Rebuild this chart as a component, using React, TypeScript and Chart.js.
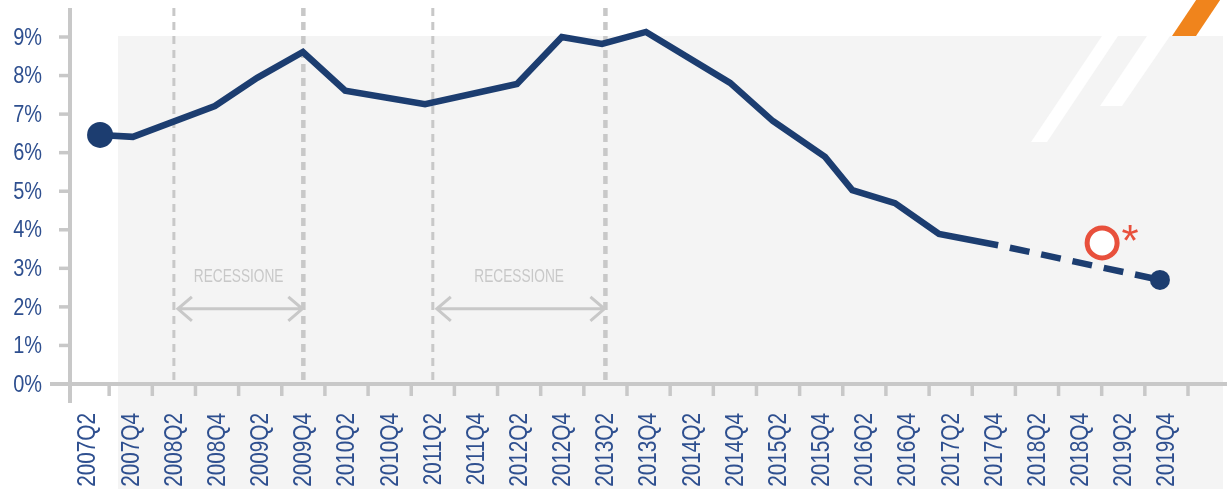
import React, { useEffect, useRef } from "react";
import { Chart, registerables } from "chart.js";

Chart.register(...registerables);

// ---- data ----
const periods = [
  "2007Q2", "2007Q4", "2008Q2", "2008Q4", "2009Q2", "2009Q4", "2010Q2", "2010Q4",
  "2011Q2", "2011Q4", "2012Q2", "2012Q4", "2013Q2", "2013Q4", "2014Q2", "2014Q4",
  "2015Q2", "2015Q4", "2016Q2", "2016Q4", "2017Q2", "2017Q4", "2018Q2", "2018Q4",
  "2019Q2", "2019Q4",
];
const percentTicks = [0, 1, 2, 3, 4, 5, 6, 7, 8, 9];

// position along the half-year axis (index into periods) and rate in %
const actualPos = [0.29, 1.05, 2.95, 3.93, 4.99, 5.97, 7.82, 9.95, 10.99, 11.92, 12.94, 14.89, 15.88, 17.09, 17.72, 18.71, 19.73, 21.1];
const actualRate = [6.46, 6.41, 7.21, 7.94, 8.61, 7.61, 7.26, 7.78, 9.0, 8.82, 9.13, 7.81, 6.82, 5.89, 5.03, 4.69, 3.89, 3.6];
const forecastPos = [21.1, 24.85];
const forecastRate = [3.6, 2.7];
const targetPos = [23.51];
const targetRate = [3.66];

const recessions = [
  ["2008Q2", "2009Q4"],
  ["2011Q2", "2013Q2"],
];
const recessionLabel = "RECESSIONE";

// ---- styles ----
const NAVY = "#1c3d70";
const TEXT_BLUE = "#2e4f8f";
const GREY = "#c8c8c8";
const PANEL = "#f4f4f4";
const RED = "#e8503c";
const ORANGE = "#f0841c";
const FONT = "'Liberation Sans', Arial, sans-serif";
const SQUEEZE = 0.83;

const decor = {
  id: "decor",
  beforeDraw(chart: any) {
    const { ctx, chartArea, scales } = chart;
    const xs = scales.x;
    const ys = scales.y;
    const W = chart.width;
    const H = chart.height;
    const top = ys.getPixelForValue(9) - 1;
    const bottom = chartArea.bottom;
    ctx.save();

    // grey panel
    const panelL = 118;
    const panelR = W - 4;
    ctx.fillStyle = PANEL;
    ctx.fillRect(panelL, top, panelR - panelL, H - top);

    // white stripes
    ctx.fillStyle = "#ffffff";
    ctx.beginPath();
    ctx.moveTo(1102, top);
    ctx.lineTo(1118, top);
    ctx.lineTo(1047, 142);
    ctx.lineTo(1031, 142);
    ctx.closePath();
    ctx.fill();
    ctx.beginPath();
    ctx.moveTo(1147, top);
    ctx.lineTo(1170, top);
    ctx.lineTo(1122, 106);
    ctx.lineTo(1100, 106);
    ctx.closePath();
    ctx.fill();
    // orange stripe above panel
    ctx.fillStyle = ORANGE;
    ctx.beginPath();
    ctx.moveTo(1172, top);
    ctx.lineTo(1196, top);
    ctx.lineTo(1196 + top * 0.67, 0);
    ctx.lineTo(1172 + top * 0.67, 0);
    ctx.closePath();
    ctx.fill();

    // recession dashed lines, arrows, labels
    recessions.forEach(([a, b]) => {
      const xa = xs.getPixelForValue(periods.indexOf(a));
      const xb = xs.getPixelForValue(periods.indexOf(b));
      ctx.strokeStyle = GREY;
      ctx.setLineDash([8, 6]);
      ctx.lineWidth = 3;
      ctx.beginPath();
      ctx.moveTo(xa, 8);
      ctx.lineTo(xa, bottom);
      ctx.stroke();
      ctx.lineWidth = 4.5;
      ctx.beginPath();
      ctx.moveTo(xb, 8);
      ctx.lineTo(xb, bottom);
      ctx.stroke();
      ctx.setLineDash([]);

      const ay = ys.getPixelForValue(1.95);
      ctx.lineWidth = 3;
      ctx.beginPath();
      ctx.moveTo(xa + 4, ay);
      ctx.lineTo(xb - 1, ay);
      ctx.moveTo(xa + 18, ay - 12);
      ctx.lineTo(xa + 4, ay);
      ctx.lineTo(xa + 18, ay + 12);
      ctx.moveTo(xb - 15, ay - 12);
      ctx.lineTo(xb - 1, ay);
      ctx.lineTo(xb - 15, ay + 12);
      ctx.stroke();

      ctx.save();
      ctx.fillStyle = GREY;
      ctx.font = `18px ${FONT}`;
      ctx.textAlign = "center";
      ctx.textBaseline = "middle";
      ctx.translate((xa + xb) / 2, ys.getPixelForValue(2.77));
      ctx.scale(0.76, 1);
      ctx.fillText(recessionLabel, 0, 0);
      ctx.restore();
    });

    // axes
    ctx.strokeStyle = GREY;
    ctx.lineWidth = 4;
    const yAxisX = chartArea.left + 4;
    ctx.beginPath();
    ctx.moveTo(yAxisX, 8);
    ctx.lineTo(yAxisX, bottom + 19);
    ctx.stroke();
    ctx.beginPath();
    ctx.moveTo(50, bottom);
    ctx.lineTo(W, bottom);
    ctx.stroke();
    ctx.lineWidth = 3.5;
    percentTicks.forEach((v) => {
      if (v === 0) return;
      const py = ys.getPixelForValue(v);
      ctx.beginPath();
      ctx.moveTo(59, py);
      ctx.lineTo(yAxisX, py);
      ctx.stroke();
    });
    periods.forEach((_, i) => {
      const px = xs.getPixelForValue(i + 0.5);
      ctx.beginPath();
      ctx.moveTo(px, bottom);
      ctx.lineTo(px, bottom + 12);
      ctx.stroke();
    });

    // tick labels (condensed)
    ctx.fillStyle = TEXT_BLUE;
    ctx.font = `24px ${FONT}`;
    ctx.textAlign = "right";
    ctx.textBaseline = "middle";
    percentTicks.forEach((v) => {
      const py = ys.getPixelForValue(v);
      ctx.save();
      ctx.translate(42, py + 1);
      ctx.scale(SQUEEZE, 1);
      ctx.fillText(`${v}%`, 0, 0);
      ctx.restore();
    });
    ctx.font = `25px ${FONT}`;
    periods.forEach((label, i) => {
      const px = xs.getPixelForValue(i);
      ctx.save();
      ctx.translate(px + 1, bottom + 29);
      ctx.rotate(-Math.PI / 2);
      ctx.scale(SQUEEZE, 1);
      ctx.fillText(label, 0, 0);
      ctx.restore();
    });
    ctx.restore();
  },
  afterDatasetsDraw(chart: any) {
    const { ctx } = chart;
    const meta = chart.getDatasetMeta(2);
    const pt = meta.data[0];
    if (!pt) return;
    ctx.save();
    ctx.fillStyle = RED;
    ctx.font = `44px ${FONT}`;
    ctx.textAlign = "center";
    ctx.textBaseline = "alphabetic";
    ctx.fillText("*", pt.x + 28, pt.y + 13);
    ctx.restore();
  },
};

export default function App() {
  const canvasRef = useRef<HTMLCanvasElement | null>(null);

  useEffect(() => {
    document.body.style.margin = "0";
    const canvas = canvasRef.current;
    if (!canvas) return;
    const chart = new Chart(canvas, {
      type: "line",
      data: {
        datasets: [
          {
            data: actualPos.map((p, i) => ({ x: p, y: actualRate[i] })),
            borderColor: NAVY,
            borderWidth: 6.5,
            borderJoinStyle: "miter",
            pointRadius: actualPos.map((_, i) => (i === 0 ? 13 : 0)),
            pointBackgroundColor: NAVY,
            pointBorderWidth: 0,
            tension: 0,
            clip: false,
          } as any,
          {
            data: forecastPos.map((p, i) => ({ x: p, y: forecastRate[i] })),
            borderColor: NAVY,
            borderWidth: 6.5,
            borderDash: [20, 12],
            borderDashOffset: 20,
            borderCapStyle: "butt",
            pointRadius: forecastPos.map((_, i) => (i === forecastPos.length - 1 ? 10 : 0)),
            pointBackgroundColor: NAVY,
            pointBorderWidth: 0,
            tension: 0,
            clip: false,
          } as any,
          {
            data: targetPos.map((p, i) => ({ x: p, y: targetRate[i] })),
            showLine: false,
            pointRadius: 15,
            pointBorderWidth: 5,
            pointBorderColor: RED,
            pointBackgroundColor: "#ffffff",
            clip: false,
          } as any,
        ],
      },
      options: {
        animation: false,
        responsive: true,
        maintainAspectRatio: false,
        events: [],
        layout: { padding: { top: 37, right: 39, left: 0, bottom: 0 } },
        plugins: { legend: { display: false }, tooltip: { enabled: false } },
        scales: {
          x: {
            type: "linear",
            min: -0.5,
            max: periods.length - 0.5,
            afterBuildTicks: (s: any) => {
              s.ticks = periods.map((_, i) => ({ value: i }));
            },
            afterFit: (s: any) => {
              s.height = 105;
            },
            grid: { display: false, drawTicks: false },
            border: { display: false },
            ticks: { display: false },
          },
          y: {
            type: "linear",
            min: 0,
            max: 9,
            afterBuildTicks: (s: any) => {
              s.ticks = percentTicks.map((v) => ({ value: v }));
            },
            afterFit: (s: any) => {
              s.width = 66;
            },
            grid: { display: false, drawTicks: false },
            border: { display: false },
            ticks: { display: false },
          },
        },
      } as any,
      plugins: [decor],
    });
    return () => chart.destroy();
  }, []);

  return (
    <div style={{ position: "relative", width: 1227, height: 489 }}>
      <canvas ref={canvasRef} />
    </div>
  );
}
